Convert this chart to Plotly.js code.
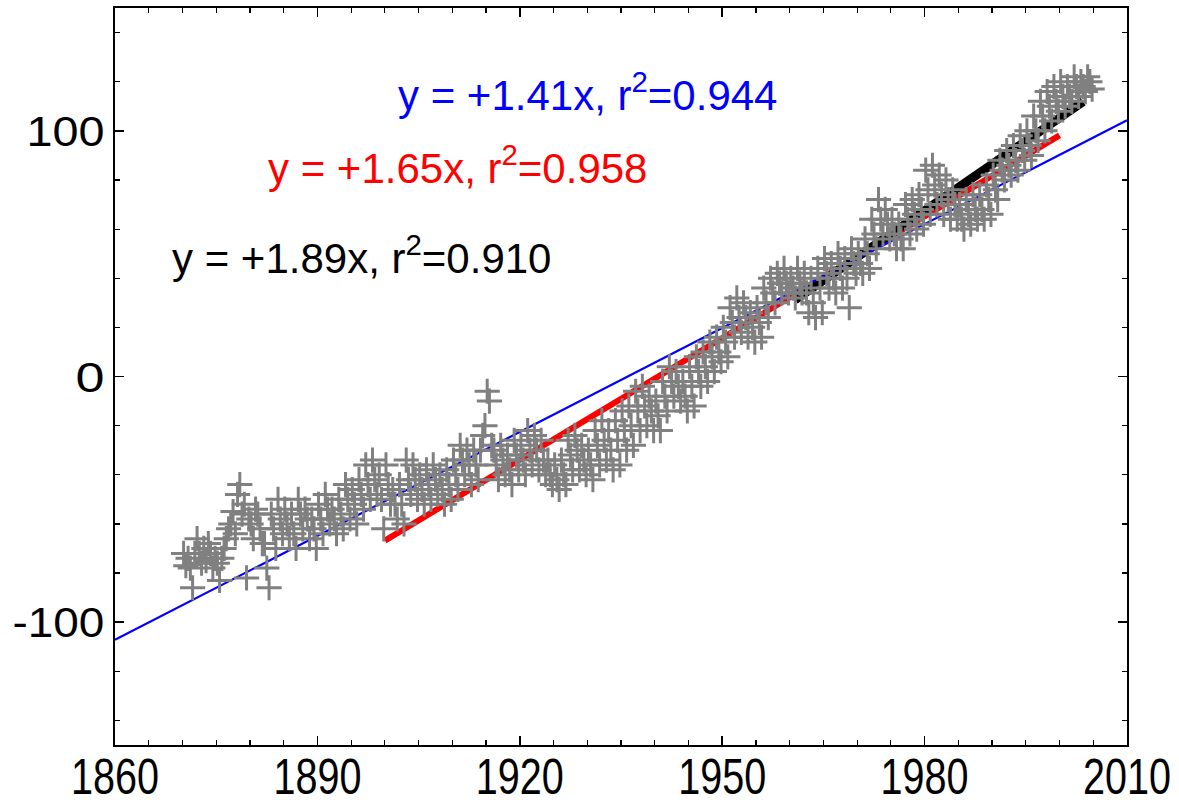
<!DOCTYPE html>
<html>
<head>
<meta charset="utf-8">
<script src="https://cdn.plot.ly/plotly-3.0.1.min.js"></script>
<style>html,body{margin:0;padding:0;background:#fff;}#chart{width:1179px;height:805px;}</style>
</head>
<body>
<div id="chart"></div>
<script>
// Start year of each row of readings
const years = [];
for (let y = 1870; y <= 2004; y++) years.push(y);

// Three readings per year (mm)
const seaLevel = [
  [-72,-77,-74],[-78,-86,-72],[-66,-72,-76],[-70,-75,-68],[-72,-78,-74],
  [-76,-83,-74],[-70,-66,-62],[-60,-55,-64],[-48,-44,-56],[-52,-82,-58],
  [-60,-66,-54],[-56,-62,-68],[-68,-78,-86],[-56,-62,-70],[-50,-58,-64],
  [-54,-60,-66],[-56,-64,-70],[-50,-56,-62],[-54,-58,-66],[-58,-62,-70],
  [-52,-58,-64],[-48,-54,-60],[-54,-58,-64],[-50,-56,-62],[-44,-50,-58],
  [-46,-52,-60],[-42,-48,-54],[-36,-44,-50],[-34,-42,-48],[-40,-50,-62],
  [-36,-44,-52],[-46,-52,-58],[-44,-52,-60],[-34,-42,-48],[-36,-42,-50],
  [-40,-46,-52],[-38,-44,-50],[-36,-42,-48],[-40,-46,-52],[-38,-44,-50],
  [-34,-40,-46],[-28,-34,-40],[-30,-36,-44],[-30,-36,-42],[-30,-24,-20],
  [-6,-10,-28],[-30,-36,-42],[-28,-34,-40],[-32,-38,-44],[-26,-32,-38],
  [-28,-34,-40],[-22,-30,-36],[-24,-30,-38],[-26,-34,-40],[-34,-40,-44],
  [-36,-42,-46],[-34,-40,-44],[-26,-32,-38],[-24,-30,-38],[-28,-34,-40],
  [-30,-36,-42],[-22,-28,-36],[-18,-26,-34],[-22,-30,-38],[-18,-26,-36],
  [-14,-22,-30],[-12,-20,-28],[-6,-14,-22],[-4,-12,-20],[-8,-14,-22],
  [-10,-16,-22],[-2,-8,-14],[4,-2,-8],[2,-4,-10],[-2,-8,-14],
  [4,-4,-12],[8,2,-4],[10,4,-2],[14,8,2],[16,10,6],
  [20,14,8],[28,22,16],[32,24,18],[30,24,16],[26,20,14],
  [28,22,16],[36,30,24],[40,34,30],[42,38,34],[44,38,34],
  [40,36,32],[44,38,34],[42,34,26],[40,30,24],[44,36,26],
  [48,42,36],[46,40,34],[50,44,36],[48,40,28],[52,46,42],
  [50,46,42],[56,50,44],[64,58,52],[72,64,58],[68,62,56],
  [64,58,52],[62,56,52],[70,64,58],[72,66,60],[74,68,62],
  [84,76,66],[86,78,70],[82,74,66],[80,72,64],[76,70,64],
  [70,64,60],[72,66,62],[74,68,64],[74,68,64],[78,72,66],
  [82,76,72],[88,84,80],[92,86,82],[94,88,84],[98,92,88],
  [100,94,90],[106,100,96],[112,106,100],[116,110,104],[118,112,108],
  [120,114,110],[118,114,112],[122,118,114],[120,118,116],[122,120,117]
];

// Axis tick labels
const xTickVals = [1860, 1890, 1920, 1950, 1980, 2010];
const xTickText = ['1860', '1890', '1920', '1950', '1980', '2010'];
const yTickVals = [-100, 0, 100];
const yTickText = ['-100', '0', '100'];

// Trend lines: slope (mm/yr), zero-crossing year, start and end years
const fitSlopes = [1.41, 1.65, 1.89];
const fitZeroYears = [1936, 1940.5, 1944.3];
const fitStart = [1860, 1900, 1960.8];
const fitEnd = [2010, 2000, 2003.5];
const fitColors = ['#0000ff', '#ff0000', '#000000'];
const fitWidths = [2.2, 6, 9];
const fitLabels = ['y = +1.41x, r<sup>2</sup>=0.944', 'y = +1.65x, r<sup>2</sup>=0.958', 'y = +1.89x, r<sup>2</sup>=0.910'];

const xs = [], ys = [];
years.forEach((yr, i) => {
  seaLevel[i].forEach((v, k) => { xs.push(yr + (k + 0.5) / 3); ys.push(v); });
});

const traces = [];
[1, 2, 0].forEach(i => {
  traces.push({
    type: 'scatter', mode: 'lines',
    x: [fitStart[i], fitEnd[i]],
    y: [fitSlopes[i] * (fitStart[i] - fitZeroYears[i]), fitSlopes[i] * (fitEnd[i] - fitZeroYears[i])],
    line: {color: fitColors[i], width: fitWidths[i]},
    hoverinfo: 'skip', showlegend: false
  });
});
traces.push({
  type: 'scatter', mode: 'markers', x: xs, y: ys,
  marker: {symbol: 'cross-thin', size: 18, line: {color: '#808080', width: 3}, color: '#808080'},
  showlegend: false
});

const annPos = [[1901.6, 116], [1882.4, 86], [1868.2, 49.5]];
const annotations = fitLabels.map((t, i) => ({
  text: t, x: annPos[i][0], y: annPos[i][1], xref: 'x', yref: 'y',
  xanchor: 'left', yanchor: 'middle', showarrow: false,
  font: {family: 'Liberation Sans, Arial, sans-serif', size: 42, color: fitColors[i]}
}));

const layout = {
  width: 1179, height: 805,
  margin: {l: 115, r: 52, t: 8, b: 60},
  paper_bgcolor: '#fff', plot_bgcolor: '#fff',
  showlegend: false,
  xaxis: {
    range: [1860, 2010], tickvals: xTickVals, ticktext: xTickText,
    ticks: 'inside', ticklen: 9, tickwidth: 1.5, tickcolor: '#000',
    minor: {dtick: 5, tick0: 1860, ticks: 'inside', ticklen: 5, tickwidth: 1.2, tickcolor: '#000'},
    showline: true, linecolor: '#000', linewidth: 2, mirror: 'allticks',
    showgrid: false, zeroline: false, ticklabeloverflow: 'allow',
    tickfont: {family: 'Liberation Sans, Arial, sans-serif', size: 50, color: '#000'}
  },
  yaxis: {
    range: [-150, 150], tickvals: yTickVals, ticktext: yTickText,
    ticks: 'inside', ticklen: 9, tickwidth: 1.5, tickcolor: '#000',
    minor: {dtick: 20, tick0: 0, ticks: 'inside', ticklen: 5, tickwidth: 1.2, tickcolor: '#000'},
    showline: true, linecolor: '#000', linewidth: 2, mirror: 'allticks',
    showgrid: false, zeroline: false, ticklabeloverflow: 'allow',
    tickfont: {family: 'Liberation Sans, Arial, sans-serif', size: 43, color: '#000'}
  },
  annotations: annotations
};

function condense() {
  document.querySelectorAll('.xtick text').forEach(t => {
    t.setAttribute('textLength', 88);
    t.setAttribute('lengthAdjust', 'spacingAndGlyphs');
    const y = parseFloat(t.getAttribute('y')) || 0;
    t.setAttribute('y', y - 13);
  });
  const yLen = {'-100': 92, '0': 29, '100': 78};
  document.querySelectorAll('.ytick text').forEach(t => {
    const L = yLen[t.textContent];
    if (L) { t.setAttribute('textLength', L); t.setAttribute('lengthAdjust', 'spacingAndGlyphs'); }
  });
}

Plotly.newPlot('chart', traces, layout, {displayModeBar: false, staticPlot: true}).then(condense);
</script>
</body>
</html>
